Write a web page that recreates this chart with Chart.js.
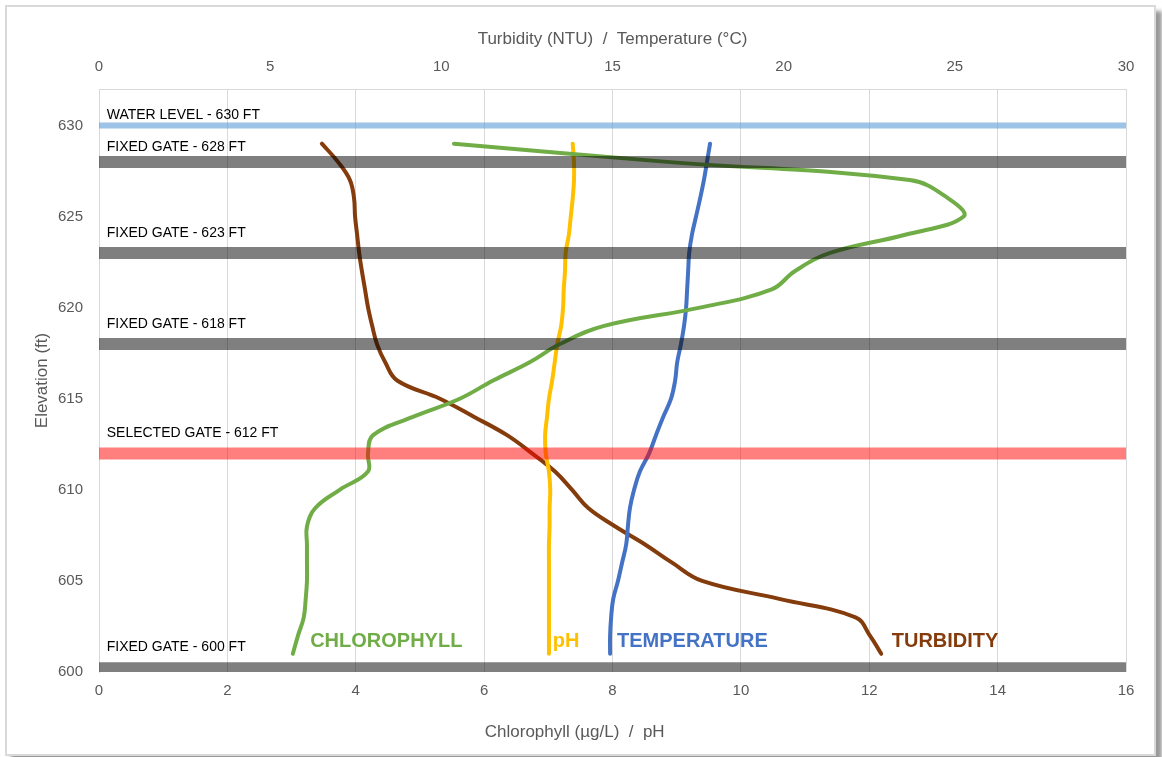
<!DOCTYPE html>
<html>
<head>
<meta charset="utf-8">
<script src="https://cdn.jsdelivr.net/npm/chart.js@4.4.1/dist/chart.umd.min.js"></script>
<style>
    body { margin: 0; background: #fff; }
    #frame {
        position: absolute; left: 5px; top: 5px; width: 1147px; height: 747px;
        border: 2px solid #d9d9d9; background: #fff;
        box-shadow: 6px 6px 4px rgba(0, 0, 0, 0.4);
    }
    #wrap { position: absolute; left: 0; top: 0; width: 1162px; height: 757px; }
</style>
</head>
<body>
<div id="frame"></div>
<div id="wrap"><canvas id="myChart"></canvas></div>
<script>
// elevations of the profile readings (ft)
const elevation = [629, 628, 627, 626, 625, 624, 623, 622, 621, 620, 619, 618, 617, 616, 615,
    614, 613, 612, 611, 610, 609, 608, 607, 606, 605, 604, 603, 602, 601];

// bottom axis series
const chlorophyll = [5.53, 8.85, 12.63, 13.23, 13.47, 12.56, 11.39, 10.84, 10.48, 9.36, 7.87, 7.18, 6.71, 6.14, 5.62,
    4.89, 4.27, 4.19, 4.19, 3.75, 3.37, 3.24, 3.24, 3.24, 3.24, 3.22, 3.19, 3.10, 3.02];
const ph = [7.38, 7.40, 7.40, 7.38, 7.35, 7.32, 7.27, 7.26, 7.24, 7.23, 7.20, 7.14, 7.10, 7.06, 7.01,
    6.98, 6.95, 6.96, 7.01, 7.03, 7.02, 7.02, 7.01, 7.01, 7.01, 7.01, 7.01, 7.01, 7.01];

// top axis series
const temperature = [17.85, 17.76, 17.67, 17.56, 17.44, 17.32, 17.24, 17.21, 17.18, 17.15, 17.09, 17.00, 16.89, 16.83, 16.71,
    16.48, 16.27, 16.07, 15.80, 15.63, 15.51, 15.45, 15.40, 15.28, 15.16, 15.02, 14.96, 14.93, 14.93];
const turbidity = [6.51, 6.98, 7.33, 7.45, 7.48, 7.54, 7.60, 7.68, 7.77, 7.86, 7.98, 8.12, 8.36, 8.71, 9.96,
    10.96, 11.92, 12.65, 13.32, 13.82, 14.29, 15.07, 15.95, 16.74, 17.62, 19.90, 22.10, 22.52, 22.85];

// gates
const gateNames = ['WATER LEVEL - 630 FT', 'FIXED GATE - 628 FT', 'FIXED GATE - 623 FT',
    'FIXED GATE - 618 FT', 'SELECTED GATE - 612 FT', 'FIXED GATE - 600 FT'];
const gateElevation = [630, 628, 623, 618, 612, 600.2];
const gateLabelElevation = [630.55, 628.8, 624.1, 619.1, 613.1, 601.35];
const gateColors = ['rgba(91,155,213,0.6)', 'rgba(0,0,0,0.5)', 'rgba(0,0,0,0.5)',
    'rgba(0,0,0,0.5)', 'rgba(255,0,0,0.5)', 'rgba(0,0,0,0.5)'];
const gateWidths = [6, 12, 12, 12, 12, 12];

// series names drawn in the chart
const seriesNames = ['CHLOROPHYLL', 'pH', 'TEMPERATURE', 'TURBIDITY'];
const seriesColors = ['#70AD47', '#FFC000', '#4472C4', '#843C0C'];
const seriesLabelX = [3.29, 7.07, 8.07, 12.35];
const seriesLabelElevation = 601.7;

const xTicks = [0, 2, 4, 6, 8, 10, 12, 14, 16];
const x2Ticks = [0, 5, 10, 15, 20, 25, 30];
const yTicks = [600, 605, 610, 615, 620, 625, 630];

const gray = '#595959';
const font = '"Liberation Sans", Arial, sans-serif';

function profile(values) {
    return values.map((v, i) => ({ x: v, y: elevation[i] }));
}

const gateSets = gateNames.map((name, i) => ({
    label: name,
    data: [{ x: xTicks[0], y: gateElevation[i] }, { x: xTicks[xTicks.length - 1], y: gateElevation[i] }],
    xAxisID: 'x',
    borderColor: gateColors[i],
    borderWidth: gateWidths[i],
    pointRadius: 0,
    tension: 0
}));

const curveSets = [
    { label: 'Chlorophyll', data: profile(chlorophyll), xAxisID: 'x', borderColor: seriesColors[0] },
    { label: 'pH', data: profile(ph), xAxisID: 'x', borderColor: seriesColors[1] },
    { label: 'Temperature', data: profile(temperature), xAxisID: 'x2', borderColor: seriesColors[2] },
    { label: 'Turbidity', data: profile(turbidity), xAxisID: 'x2', borderColor: seriesColors[3] }
].map(d => Object.assign(d, { borderWidth: 4, pointRadius: 0, tension: 0.4, borderCapStyle: 'round' }));

const labelPlugin = {
    id: 'inlineLabels',
    afterDatasetsDraw(chart) {
        const { ctx, scales: { x, y } } = chart;
        ctx.save();
        ctx.textBaseline = 'middle';
        ctx.textAlign = 'left';
        ctx.font = '14px ' + font;
        ctx.fillStyle = '#000';
        gateNames.forEach((t, i) => {
            ctx.fillText(t, x.getPixelForValue(0.12), y.getPixelForValue(gateLabelElevation[i]));
        });
        ctx.font = 'bold 20px ' + font;
        seriesNames.forEach((t, i) => {
            ctx.fillStyle = seriesColors[i];
            ctx.fillText(t, x.getPixelForValue(seriesLabelX[i]), y.getPixelForValue(seriesLabelElevation));
        });
        ctx.restore();
    }
};

const ctx = document.getElementById('myChart').getContext('2d');
new Chart(ctx, {
    type: 'line',
    data: { datasets: gateSets.concat(curveSets) },
    options: {
        responsive: true,
        maintainAspectRatio: false,
        animation: false,
        layout: { padding: { left: 0, top: 0, right: 36, bottom: 0 } },
        plugins: { legend: { display: false }, tooltip: { enabled: false } },
        scales: {
            x: {
                type: 'linear',
                position: 'bottom',
                min: 0, max: 16,
                afterBuildTicks: s => { s.ticks = xTicks.map(v => ({ value: v })); },
                afterFit: s => { s.height = 85; },
                grid: { color: '#d9d9d9', drawTicks: false },
                border: { display: false },
                ticks: { color: gray, font: { family: font, size: 15 }, padding: 10 },
                title: {
                    display: true,
                    text: 'Chlorophyll (µg/L)  /  pH' + ' '.repeat(16),
                    color: gray,
                    font: { family: font, size: 17 },
                    padding: { top: 0, bottom: 14 }
                }
            },
            x2: {
                type: 'linear',
                position: 'top',
                min: 0, max: 30,
                afterBuildTicks: s => { s.ticks = x2Ticks.map(v => ({ value: v })); },
                afterFit: s => { s.height = 89; },
                grid: { display: false, drawTicks: false },
                border: { display: true, color: '#d9d9d9' },
                ticks: { color: gray, font: { family: font, size: 15 }, padding: 13 },
                title: {
                    display: true,
                    text: 'Turbidity (NTU)  /  Temperature (°C)',
                    color: gray,
                    font: { family: font, size: 17 },
                    padding: { top: 29, bottom: 0 }
                }
            },
            y: {
                type: 'linear',
                min: 600, max: 632,
                afterBuildTicks: s => { s.ticks = yTicks.map(v => ({ value: v })); },
                afterFit: s => { s.width = 99; },
                grid: { display: false, drawTicks: false },
                border: { display: true, color: '#d9d9d9' },
                ticks: { color: gray, font: { family: font, size: 15 }, padding: 16 },
                title: {
                    display: true,
                    text: 'Elevation (ft)',
                    color: gray,
                    font: { family: font, size: 17 },
                    padding: { top: 32, bottom: 0 }
                }
            }
        }
    },
    plugins: [labelPlugin]
});
</script>
</body>
</html>
